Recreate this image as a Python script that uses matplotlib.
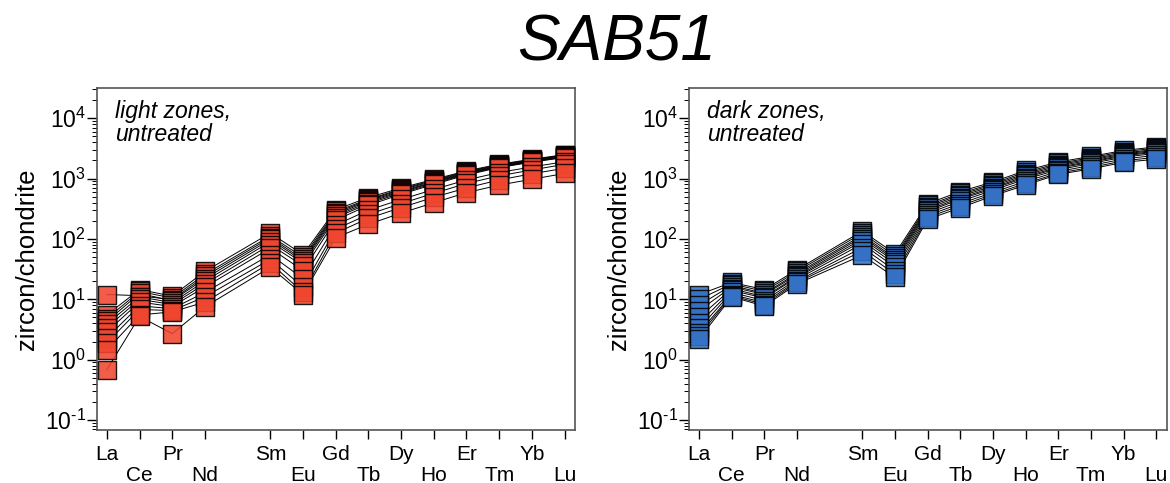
import numpy as np
import matplotlib.pyplot as plt
from matplotlib.ticker import LogLocator, NullFormatter, FixedLocator, FixedFormatter

plt.rcParams["font.family"] = ["Liberation Sans", "DejaVu Sans"]
plt.rcParams["mathtext.fontset"] = "custom"
plt.rcParams["mathtext.rm"] = "Liberation Sans"

# REE order; Pm (position 4) has no data
elements = ["La", "Ce", "Pr", "Nd", "Sm", "Eu", "Gd", "Tb", "Dy", "Ho", "Er", "Tm", "Yb", "Lu"]
positions = [0, 1, 2, 3, 5, 6, 7, 8, 9, 10, 11, 12, 13, 14]

# y tick decades and their labels
decades = [-1, 0, 1, 2, 3, 4]
decade_labels = [r"$10^{\text{-1}}$", r"$10^{0}$", r"$10^{1}$", r"$10^{2}$", r"$10^{3}$", r"$10^{4}$"]

# chondrite-normalised REE, light zones (one row per spot)
light = [
    [5.5, 14.5, 11.3, 29, 125, 55, 305, 485, 700, 970, 1340, 1730, 2090, 2490],
    [4.8, 13.5, 10.5, 26, 112, 50, 285, 455, 670, 940, 1300, 1690, 2050, 2450],
    [12, 11.5, 9.8, 24, 105, 46, 270, 440, 650, 910, 1270, 1650, 2000, 2400],
    [4.3, 12.5, 9.5, 22, 98, 43, 255, 425, 620, 880, 1240, 1610, 1960, 2350],
    [3.9, 11, 8.8, 20, 90, 40, 240, 405, 600, 860, 1210, 1580, 1930, 2300],
    [3.4, 10, 8.2, 18, 80, 36, 225, 385, 575, 830, 1180, 1550, 1900, 2270],
    [2.9, 9, 7.6, 16, 70, 30, 205, 360, 550, 800, 1150, 1520, 1870, 2230],
    [2.3, 7.8, 7.0, 13, 55, 22, 170, 300, 450, 660, 950, 1260, 1560, 1900],
    [1.9, 6.8, 6.5, 11, 46, 16, 145, 255, 385, 570, 830, 1110, 1390, 1720],
    [1.45, 5.5, 6.2, 9, 40, 13, 125, 220, 330, 490, 700, 950, 1200, 1480],
    [0.68, 5.2, 2.7, 7.5, 34, 12, 105, 175, 268, 398, 585, 780, 975, 1215],
]

# chondrite-normalised REE, dark zones
dark = [
    [12, 19, 14.5, 31, 135, 57, 385, 610, 880, 1360, 1880, 2330, 2920, 3350],
    [10, 18, 13.5, 29, 125, 52, 360, 570, 830, 1280, 1780, 2220, 2780, 3200],
    [8, 17, 12.5, 27, 115, 48, 340, 540, 790, 1210, 1700, 2120, 2650, 3050],
    [6.5, 16, 12, 25.5, 108, 45, 320, 510, 750, 1150, 1620, 2030, 2550, 2950],
    [5, 15, 11, 24, 100, 42, 300, 480, 710, 1090, 1540, 1940, 2450, 2850],
    [4, 14, 10.5, 23, 92, 38, 285, 455, 680, 1040, 1480, 1870, 2370, 2750],
    [3.3, 13, 9.5, 21.5, 83, 34, 265, 420, 640, 980, 1400, 1780, 2260, 2620],
    [2.8, 12, 8.8, 20, 72, 30, 245, 385, 590, 900, 1310, 1650, 2110, 2430],
    [2.5, 11.5, 8.2, 19, 63, 26, 228, 355, 550, 830, 1230, 1530, 1970, 2250],
    [2.2, 11, 7.7, 18, 54, 23, 212, 328, 518, 780, 1175, 1445, 1860, 2090],
]

panels = [
    (light, "#f0462f", "light zones,\nuntreated"),
    (dark, "#3572c6", "dark zones,\nuntreated"),
]

fig = plt.figure(figsize=(11.7, 4.83), dpi=100)
axes = [fig.add_axes([0.0829, 0.1097, 0.4086, 0.7081]),
        fig.add_axes([0.5891, 0.1097, 0.4081, 0.7081])]

x = np.array(positions)
for ax, (data, color, note) in zip(axes, panels):
    data = np.array(data)
    for row in data:
        ax.plot(x, row, color="black", linewidth=0.7, zorder=2)
    for row in data:
        ax.scatter(x, row, marker="s", s=150, facecolors=color, alpha=0.88,
                   edgecolors="black", linewidths=1.0, zorder=3)

    ax.set_yscale("log")
    ax.set_ylim(10 ** -1.165, 10 ** 4.5)
    ax.set_xlim(-0.3, 14.32)
    ax.yaxis.set_major_locator(FixedLocator([10.0 ** d for d in decades]))
    ax.yaxis.set_major_formatter(FixedFormatter(decade_labels))
    ax.yaxis.set_minor_locator(LogLocator(base=10, subs=np.arange(2, 10), numticks=10))
    ax.yaxis.set_minor_formatter(NullFormatter())
    ax.tick_params(axis="y", which="major", labelsize=16.5, length=7, width=1, pad=1)
    ax.tick_params(axis="y", which="minor", length=3.5, width=0.7)

    ax.set_xticks(positions)
    ax.set_xticklabels([e if i % 2 == 0 else "\n" + e for i, e in enumerate(elements)])
    ax.tick_params(axis="x", labelsize=15, length=6.5, width=1, pad=4)
    for lab in ax.get_xticklabels():
        lab.set_linespacing(1.15)

    for sp in ax.spines.values():
        sp.set_color("#555555")
        sp.set_linewidth(1.2)

    ax.set_ylabel("zircon/chondrite", fontsize=18.5, labelpad=4)
    ax.text(0.037, 0.965, note, transform=ax.transAxes, ha="left", va="top",
            fontsize=16.5, style="italic", linespacing=1.0)

fig.text(0.527, 0.91, "SAB51", ha="center", va="center", fontsize=46, style="italic")

fig.savefig("out.png", dpi=100)
